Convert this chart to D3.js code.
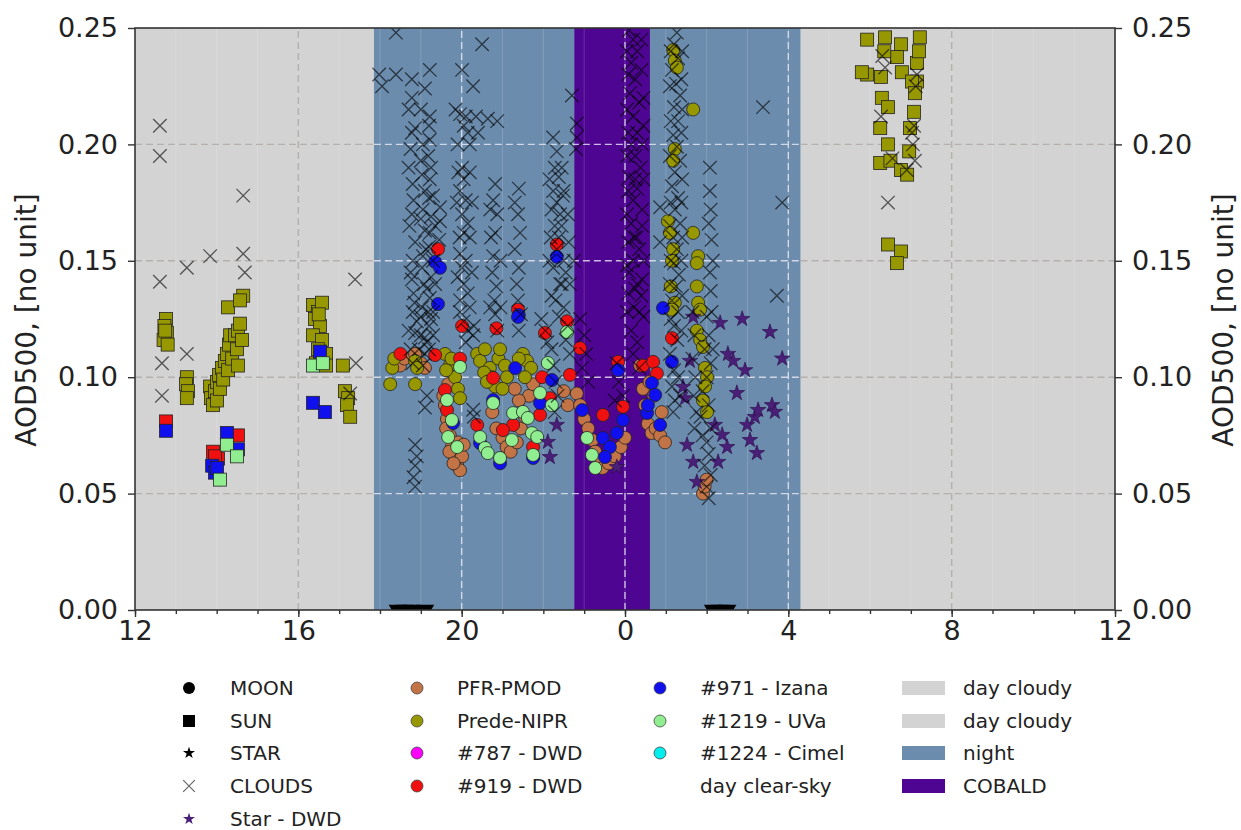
<!DOCTYPE html>
<html>
<head>
<meta charset="utf-8">
<style>
  body { margin: 0; background: #fff; }
  svg { display: block; }
  text { font-family: "DejaVu Sans", sans-serif; fill: #222; }
</style>
</head>
<body>
<svg width="1241" height="830"></svg>
<script src="https://cdn.jsdelivr.net/npm/d3@7"></script>
<script>
// hours run 12 .. 36 (24 = midnight), values are AOD500

var xTicks = [12, 16, 20, 24, 28, 32, 36];
var yTicks = [0, 0.05, 0.10, 0.15, 0.20, 0.25];

var dayCloudy = [[12, 17.85], [28.30, 36]];
var night = [[17.85, 28.30]];
var cobald = [[22.76, 24.61]];

var clouds = [
  [12.61,0.208],[12.61,0.195],[12.61,0.141],[12.66,0.106],[12.66,0.092],
  [13.27,0.147],[13.27,0.110],[13.84,0.152],[14.65,0.178],[14.65,0.153],[14.69,0.145],
  [17.39,0.142],[17.41,0.106],[17.27,0.093],
  [18.39,0.248],[18.39,0.230],[18.78,0.228],[18.78,0.220],[19.10,0.224],[19.22,0.232],[17.98,0.230],[18.05,0.225],
  [18.86,0.207],[18.78,0.205],[18.82,0.176],[18.78,0.170],[18.86,0.158],[18.78,0.142],[18.82,0.136],
  [19.22,0.212],[19.20,0.208],[19.22,0.202],[19.18,0.195],[19.25,0.190],[19.22,0.185],[19.20,0.177],
  [19.25,0.169],[19.22,0.162],[19.20,0.156],[19.25,0.143],[19.22,0.134],
  [19.03,0.187],[19.05,0.172],[19.10,0.163],[19.03,0.147],[19.08,0.140],[19.03,0.130],
  [19.47,0.173],[19.47,0.167],[19.45,0.159],
  [18.80,0.128],[18.90,0.124],[18.86,0.119],[19.00,0.126],[19.10,0.117],[19.20,0.122],[19.15,0.115],
  [19.18,0.128],[19.25,0.125],[19.30,0.118],[19.20,0.112],[19.05,0.105],[18.95,0.112],
  [18.70,0.215],[18.75,0.198],[18.70,0.190],[18.80,0.183],[18.72,0.165],[18.80,0.150],[18.75,0.145],
  [18.85,0.132],[18.70,0.120],[18.75,0.112],[18.80,0.106],
  [19.00,0.215],[19.05,0.200],[19.00,0.193],[19.10,0.180],[19.00,0.168],[19.12,0.155],[19.05,0.152],
  [19.15,0.138],[19.00,0.118],[19.10,0.110],[19.30,0.178],[19.35,0.165],[19.30,0.150],[19.35,0.140],[19.30,0.128],
  [19.15,0.092],[19.10,0.087],[18.86,0.071],[18.86,0.062],[18.86,0.053],[18.90,0.066],[18.82,0.057],
  [20.01,0.232],[20.28,0.225],[20.50,0.243],[19.96,0.213],[20.05,0.208],[20.15,0.205],[20.10,0.212],
  [20.20,0.200],[20.64,0.211],[20.87,0.210],
  [20.01,0.190],[20.05,0.185],[19.96,0.180],[20.10,0.176],[20.01,0.170],[20.15,0.166],[20.05,0.162],
  [19.96,0.153],[20.10,0.150],[20.01,0.147],[20.05,0.140],[20.15,0.136],[19.96,0.133],
  [19.85,0.215],[19.90,0.200],[19.92,0.188],[19.88,0.175],[19.95,0.160],[19.90,0.143],[20.20,0.188],
  [20.25,0.175],[20.20,0.160],[20.25,0.145],[20.20,0.130],[20.30,0.122],[20.35,0.212],[20.40,0.205],
  [19.96,0.128],[20.05,0.124],[20.15,0.120],[20.28,0.118],[20.10,0.115],[20.28,0.086],[20.30,0.083],
  [20.82,0.183],[20.77,0.176],[20.87,0.170],[20.82,0.162],[20.77,0.152],[20.85,0.139],[20.80,0.133],
  [20.82,0.127],[20.87,0.120],[20.70,0.172],[20.72,0.160],[20.75,0.145],[20.70,0.130],[20.95,0.150],[20.95,0.130],
  [21.40,0.181],[21.38,0.170],[21.43,0.162],[21.40,0.147],[21.38,0.133],[21.45,0.127],[21.40,0.120],
  [21.30,0.175],[21.30,0.155],[21.35,0.140],
  [22.24,0.203],[22.33,0.197],[22.28,0.190],[22.38,0.186],[22.24,0.180],[22.33,0.175],[22.41,0.170],
  [22.28,0.165],[22.38,0.160],[22.33,0.155],[22.24,0.147],[22.41,0.140],[22.30,0.133],[22.38,0.126],
  [22.15,0.185],[22.20,0.172],[22.18,0.160],[22.15,0.150],[22.20,0.135],[22.45,0.190],[22.48,0.178],
  [22.45,0.165],[22.50,0.150],[22.45,0.140],[22.50,0.180],[22.60,0.170],[22.62,0.158],[22.55,0.145],
  [22.65,0.140],[22.75,0.150],
  [22.70,0.221],[22.82,0.209],[22.82,0.203],[22.80,0.198],
  [21.95,0.125],[22.05,0.120],[22.10,0.115],[22.50,0.130],[22.60,0.122],[22.55,0.116],[22.65,0.110],
  [22.90,0.125],[23.00,0.118],[23.05,0.110],[22.95,0.104],[23.10,0.098],
  [22.20,0.112],[22.25,0.105],[22.30,0.098],[22.35,0.092],[22.28,0.085],
  [24.10,0.249],[24.20,0.245],[24.30,0.240],[24.15,0.235],[24.25,0.228],[24.40,0.232],[24.12,0.222],
  [24.35,0.218],[24.20,0.212],[24.30,0.205],[24.45,0.208],[24.15,0.200],[24.25,0.195],[24.38,0.190],
  [24.10,0.186],[24.30,0.181],[24.20,0.176],[24.42,0.172],[24.15,0.166],[24.28,0.160],[24.35,0.155],
  [24.20,0.150],[24.10,0.145],[24.30,0.140],[24.40,0.135],[24.22,0.130],[24.45,0.126],[24.15,0.120],
  [24.30,0.115],[24.20,0.110],[24.35,0.104],[23.80,0.106],[23.85,0.098],[23.95,0.092],[23.75,0.090],
  [24.05,0.240],[24.08,0.230],[24.05,0.215],[24.08,0.205],[24.05,0.195],[24.08,0.180],[24.05,0.170],
  [24.08,0.158],[24.05,0.148],[24.08,0.136],[24.05,0.128],[24.40,0.245],[24.45,0.220],[24.42,0.200],
  [24.45,0.185],[24.42,0.165],[24.45,0.150],[24.42,0.142],[24.35,0.128],[24.25,0.185],[24.22,0.160],
  [24.25,0.138],
  [25.27,0.248],[25.20,0.243],[25.30,0.237],[25.15,0.232],[25.25,0.226],[25.35,0.221],[25.20,0.216],
  [25.30,0.210],[25.18,0.204],[25.27,0.199],[25.35,0.193],[25.22,0.188],[25.15,0.182],[25.30,0.177],
  [25.22,0.172],[25.35,0.166],[25.18,0.160],[25.27,0.155],[25.20,0.149],[25.32,0.144],[25.25,0.139],
  [25.15,0.133],[25.30,0.128],[25.20,0.122],[25.28,0.116],[25.10,0.110],[25.20,0.103],[25.15,0.096],
  [25.22,0.090],[25.18,0.085],[24.86,0.173],[24.86,0.158],
  [25.12,0.240],[25.10,0.225],[25.12,0.210],[25.10,0.195],[25.12,0.175],[25.10,0.165],[25.12,0.150],
  [25.10,0.140],[25.12,0.125],[25.40,0.240],[25.38,0.228],[25.40,0.215],[25.38,0.205],[25.40,0.185],
  [25.38,0.175],[25.40,0.160],[25.38,0.150],[25.40,0.135],[25.38,0.120],[25.30,0.100],[25.35,0.092],
  [25.65,0.128],[25.70,0.118],[25.65,0.108],[25.72,0.100],[25.68,0.092],[25.75,0.085],[25.70,0.078],
  [26.08,0.190],[26.08,0.180],[26.10,0.172],[26.05,0.166],[26.12,0.159],[26.08,0.145],[26.10,0.137],
  [26.00,0.126],[26.05,0.118],[25.95,0.112],[26.10,0.106],[26.00,0.100],[25.90,0.094],[26.05,0.088],
  [25.85,0.083],[26.00,0.072],[26.05,0.067],[25.95,0.062],[26.10,0.058],[26.00,0.053],
  [26.15,0.150],[26.12,0.128],[26.15,0.112],[25.90,0.075],[26.10,0.078],[26.05,0.048],
  [27.38,0.216],[27.85,0.175],[27.72,0.135],
  [30.44,0.175],[30.30,0.238],[30.37,0.233],[30.27,0.212],[31.15,0.230],[31.12,0.225],[31.08,0.208],
  [31.03,0.205],[31.05,0.200],[31.10,0.193],[30.90,0.189],[30.55,0.194]
];

var predeSun = [
  [12.76,0.125],[12.72,0.122],[12.78,0.119],[12.70,0.116],[12.80,0.114],[12.74,0.120],
  [13.27,0.100],[13.25,0.097],[13.30,0.094],[13.27,0.091],
  [13.84,0.096],[13.86,0.091],[13.91,0.088],[13.96,0.094],[14.01,0.098],[14.01,0.090],[14.06,0.101],
  [14.08,0.095],[14.13,0.104],[14.16,0.099],[14.20,0.107],[14.25,0.110],[14.28,0.103],[14.30,0.114],
  [14.33,0.118],[14.38,0.108],[14.45,0.118],[14.50,0.112],[14.52,0.120],[14.52,0.105],[14.57,0.123],
  [14.62,0.116],[14.28,0.130],[14.65,0.135],[14.57,0.133],
  [16.36,0.131],[16.48,0.128],[16.58,0.132],[16.41,0.125],[16.53,0.122],[16.36,0.118],[16.58,0.116],
  [16.48,0.112],[16.68,0.110],[16.43,0.106],[16.68,0.105],[16.50,0.127],
  [17.09,0.105],[17.14,0.094],[17.22,0.091],[17.19,0.088],[17.27,0.083],
  [29.93,0.245],[30.37,0.246],[30.76,0.243],[31.22,0.246],[29.93,0.230],[29.80,0.231],[30.27,0.229],
  [30.66,0.2375],[30.78,0.231],[31.15,0.235],[31.15,0.227],[31.03,0.227],[30.29,0.220],[30.44,0.216],
  [30.25,0.207],[31.08,0.214],[30.98,0.207],[30.44,0.200],[30.96,0.197],[30.25,0.192],[30.50,0.193],
  [30.76,0.189],[30.91,0.187],[30.44,0.157],[30.76,0.154],[30.66,0.149],[31.20,0.240],[31.10,0.222],
  [30.35,0.240]
];
var dwd919Sun = [[12.76,0.081],[13.91,0.068],[14.03,0.065],[13.96,0.066],[14.52,0.075]];
var izanaSun = [[12.76,0.077],[13.89,0.062],[13.96,0.059],[14.01,0.061],[14.25,0.076],[14.52,0.069],
  [16.53,0.111],[16.36,0.089],[16.65,0.085]];
var uvaSun = [[14.08,0.056],[14.25,0.071],[14.50,0.066],[16.36,0.105],[16.60,0.106]];

var pfrMoon = [
  [18.49,0.105],[18.60,0.108],[18.86,0.110],[19.00,0.106],[19.10,0.104],
  [19.59,0.088],[19.64,0.082],[19.71,0.075],[19.76,0.070],[19.84,0.065],[19.89,0.062],[19.96,0.060],
  [20.01,0.066],[19.91,0.072],[19.62,0.078],[19.70,0.068],[19.80,0.063],[20.05,0.071],[19.55,0.092],
  [19.67,0.097],
  [20.75,0.085],[20.85,0.078],[21.00,0.074],[21.10,0.070],[21.20,0.068],[21.35,0.072],[21.45,0.078],
  [21.55,0.083],[21.65,0.092],[21.75,0.097],[21.40,0.090],[21.30,0.095],
  [22.50,0.094],[22.60,0.088],[22.82,0.093],[22.90,0.088],[23.00,0.082],[23.10,0.078],[23.20,0.073],
  [23.27,0.068],[23.35,0.064],[23.45,0.061],[23.60,0.063],[23.75,0.066],[23.90,0.070],[24.00,0.074],
  [24.37,0.105],[24.44,0.095],[24.49,0.088],[24.56,0.080],[24.65,0.076],[24.75,0.078],[24.86,0.075],
  [24.98,0.072],[24.60,0.098],[24.70,0.092],[24.90,0.085],
  [25.91,0.050],[25.95,0.053],[26.00,0.056]
];
var predeMoon = [
  [18.30,0.104],[18.25,0.097],[18.35,0.108],[18.86,0.107],[18.91,0.104],[18.86,0.097],
  [19.59,0.110],[19.71,0.105],[19.84,0.100],[19.91,0.095],[19.96,0.091],[19.62,0.103],[19.75,0.108],
  [20.38,0.110],[20.45,0.107],[20.57,0.112],[20.69,0.104],[20.74,0.100],[20.82,0.096],[20.55,0.102],
  [20.62,0.098],[20.90,0.108],[20.94,0.112],[21.06,0.105],[21.11,0.100],[21.00,0.095],[21.50,0.110],
  [21.60,0.107],[21.70,0.104],[21.55,0.100],[21.40,0.108],
  [25.18,0.2405],[25.22,0.236],[25.27,0.233],[25.67,0.215],[25.22,0.198],[25.18,0.193],[25.05,0.167],
  [25.10,0.162],[25.67,0.162],[25.18,0.155],[25.15,0.150],[25.79,0.152],[25.76,0.149],[25.12,0.139],
  [25.76,0.139],[25.79,0.132],[25.22,0.132],[25.15,0.129],
  [25.84,0.129],[25.76,0.120],[25.84,0.116],[25.91,0.113],[25.96,0.104],[26.01,0.100],[25.96,0.096],
  [25.91,0.090],[26.01,0.085]
];
var dwd919Moon = [
  [19.42,0.155],[22.33,0.157],[20.01,0.122],[22.04,0.119],[19.35,0.1095],[19.96,0.108],[20.77,0.0997],
  [21.97,0.100],[22.65,0.101],[22.90,0.1125],[19.59,0.0945],[20.38,0.0795],[21.26,0.0795],[21.92,0.0838],
  [22.16,0.091],[23.46,0.0838],[23.83,0.1066],[23.95,0.0873],[24.44,0.105],[24.69,0.1066],[24.78,0.1016],
  [25.15,0.1168],[19.64,0.0859],[21.01,0.0773],[21.75,0.070],[21.38,0.129],[20.85,0.121],[22.58,0.124],
  [18.50,0.110]
];
var izanaMoon = [
  [19.35,0.1495],[19.47,0.147],[19.42,0.1314],[22.33,0.1517],[21.40,0.1267],[24.93,0.1297],
  [21.38,0.1259],[21.31,0.1039],[22.21,0.0988],[20.77,0.0902],[21.92,0.0889],[19.79,0.0803],[20.94,0.063],
  [21.75,0.0653],[20.45,0.0717],[22.95,0.0859],[23.46,0.0739],[23.63,0.070],[23.51,0.0657],[23.80,0.076],
  [23.95,0.0816],[23.83,0.1031],[24.54,0.0846],[24.66,0.0975],[24.74,0.0924],[24.86,0.0795],[25.15,0.1066],
  [24.56,0.088]
];
var uvaMoon = [
  [19.96,0.1044],[19.64,0.0902],[19.76,0.0816],[19.67,0.0743],[19.89,0.070],[20.77,0.0889],[20.45,0.0743],
  [20.57,0.0696],[20.64,0.0674],[20.94,0.0653],[21.23,0.073],[21.26,0.0846],[21.50,0.0851],[21.62,0.0825],
  [21.72,0.076],[21.85,0.0743],[21.75,0.0666],[21.92,0.0932],[22.11,0.1061],[22.21,0.088],[22.58,0.1194],
  [23.07,0.0739],[23.19,0.0666],[23.27,0.061]
];
var starDwd = [
  [25.67,0.1259],[26.33,0.1233],[27.55,0.1194],[26.52,0.110],[26.65,0.107],[26.94,0.103],[27.85,0.108],
  [25.59,0.107],[25.42,0.0958],[25.47,0.091],[26.74,0.0932],[26.20,0.0795],[26.38,0.0752],[26.50,0.070],
  [26.99,0.0795],[27.18,0.0829],[27.26,0.0859],[27.60,0.088],[27.67,0.0851],[27.06,0.073],[27.23,0.0674],
  [25.52,0.0709],[25.67,0.0636],[26.28,0.0636],[25.76,0.055],[22.33,0.0795],[22.11,0.0722],[22.16,0.0657],
  [23.80,0.0614],[26.87,0.125]
];
var zeroFlags = [18.44, 18.61, 18.78, 19.10, 26.16, 26.33, 26.50];

var legendShapes = ['MOON', 'SUN', 'STAR', 'CLOUDS', 'Star - DWD'];
var legendInstr = ['PFR-PMOD', 'Prede-NIPR', '#787 - DWD', '#919 - DWD',
                   '#971 - Izana', '#1219 - UVa', '#1224 - Cimel', 'day clear-sky'];
var legendSpans = ['day cloudy', 'day cloudy', 'night', 'COBALD'];

var colors = {
  'PFR-PMOD': '#c27447', 'Prede-NIPR': '#979700', '#787 - DWD': '#ff00ff', '#919 - DWD': '#f01010',
  '#971 - Izana': '#1010ee', '#1219 - UVa': '#90ee90', '#1224 - Cimel': '#00eeee', 'day clear-sky': 'none',
  'day cloudy': '#d3d3d3', 'night': '#6b8cad', 'COBALD': '#4e0592', 'Star - DWD': '#4a1f78'
};

var svg = d3.select('svg');
var x = d3.scaleLinear().domain([12, 36]).range([135, 1115]);
var y = d3.scaleLinear().domain([0, 0.25]).range([610, 28]);

svg.append('clipPath').attr('id', 'plot')
  .append('rect').attr('x', 135).attr('y', 28).attr('width', 980).attr('height', 582);

var g = svg.append('g').attr('clip-path', 'url(#plot)');

function band(list, color) {
  g.selectAll(null).data(list).enter().append('rect')
    .attr('x', function (d) { return x(d[0]); })
    .attr('width', function (d) { return x(d[1]) - x(d[0]); })
    .attr('y', y(0.25)).attr('height', y(0) - y(0.25))
    .attr('fill', color);
}
band(dayCloudy, colors['day cloudy']);
band(night, colors.night);
band(cobald, colors.COBALD);

// faint hourly lines
g.selectAll(null).data(d3.range(13, 36)).enter().append('line')
  .attr('x1', x).attr('x2', x).attr('y1', y(0)).attr('y2', y(0.25))
  .attr('stroke', '#fff').attr('stroke-opacity', 0.16);

// dashed grid, tinted per background
function grid(list, color, op) {
  list.forEach(function (r) {
    g.selectAll(null).data(yTicks.slice(1, -1)).enter().append('line')
      .attr('x1', x(r[0])).attr('x2', x(r[1])).attr('y1', y).attr('y2', y)
      .attr('stroke', color).attr('stroke-opacity', op).attr('stroke-width', 1.4)
      .attr('stroke-dasharray', '7,4');
    g.selectAll(null).data(xTicks.filter(function (t) { return t > r[0] && t < r[1] && t > 12 && t < 36; }))
      .enter().append('line')
      .attr('x1', x).attr('x2', x).attr('y1', y(0)).attr('y2', y(0.25))
      .attr('stroke', color).attr('stroke-opacity', op).attr('stroke-width', 1.4)
      .attr('stroke-dasharray', '7,4');
  });
}
grid(dayCloudy, '#b0aca8', 0.9);
grid(night, '#eceaf2', 0.8);

function squares(data, color) {
  g.selectAll(null).data(data).enter().append('rect')
    .attr('x', function (d) { return x(d[0]) - 6.5; })
    .attr('y', function (d) { return y(d[1]) - 6.5; })
    .attr('width', 13).attr('height', 13)
    .attr('fill', color).attr('stroke', '#222').attr('stroke-width', 0.8);
}
function circles(data, color) {
  g.selectAll(null).data(data).enter().append('circle')
    .attr('cx', function (d) { return x(d[0]); })
    .attr('cy', function (d) { return y(d[1]); })
    .attr('r', 6.5)
    .attr('fill', color).attr('stroke', '#222').attr('stroke-width', 0.8);
}

squares(predeSun, colors['Prede-NIPR']);
squares(dwd919Sun, colors['#919 - DWD']);
squares(izanaSun, colors['#971 - Izana']);
squares(uvaSun, colors['#1219 - UVa']);

circles(pfrMoon, colors['PFR-PMOD']);
circles(predeMoon, colors['Prede-NIPR']);
circles(dwd919Moon, colors['#919 - DWD']);
circles(izanaMoon, colors['#971 - Izana']);
circles(uvaMoon, colors['#1219 - UVa']);

var star = d3.symbol().type(d3.symbolStar).size(75);
g.selectAll(null).data(starDwd).enter().append('path')
  .attr('d', star)
  .attr('transform', function (d) { return 'translate(' + x(d[0]) + ',' + y(d[1]) + ')'; })
  .attr('fill', colors['Star - DWD']).attr('stroke', '#2a0a48').attr('stroke-width', 0.6);

var cross = d3.symbol().type(d3.symbolX).size(120);
g.selectAll(null).data(clouds).enter().append('path')
  .attr('d', cross)
  .attr('transform', function (d) { return 'translate(' + x(d[0]) + ',' + y(d[1]) + ')'; })
  .attr('fill', 'none').attr('stroke', '#000').attr('stroke-opacity', 0.62).attr('stroke-width', 1.3);

var tri = d3.symbol().type(d3.symbolTriangle).size(150);
g.selectAll(null).data(zeroFlags).enter().append('path')
  .attr('d', tri)
  .attr('transform', function (d) { return 'translate(' + x(d) + ',' + y(0) + ') rotate(180)'; })
  .attr('fill', '#000');

// axes
var fmt = d3.format('.2f');
function styleAxis(sel) {
  sel.select('.domain').remove();
  sel.selectAll('.tick line').attr('stroke', '#333').attr('stroke-width', 1.4);
  sel.selectAll('.tick text').style('font-size', '27px').attr('fill', '#222');
}
svg.append('g').attr('transform', 'translate(135,0)')
  .call(d3.axisLeft(y).tickValues(yTicks).tickFormat(fmt).tickSize(7).tickPadding(10))
  .call(styleAxis);
svg.append('g').attr('transform', 'translate(1115,0)')
  .call(d3.axisRight(y).tickValues(yTicks).tickFormat(fmt).tickSize(7).tickPadding(10))
  .call(styleAxis);
svg.append('g').attr('transform', 'translate(0,610)')
  .call(d3.axisBottom(x).tickValues(d3.range(12, 37)).tickFormat('').tickSize(4))
  .call(styleAxis);
svg.append('g').attr('transform', 'translate(0,610)')
  .call(d3.axisBottom(x).tickValues(xTicks).tickFormat(function (d) { return d % 24; })
    .tickSize(7).tickPadding(4))
  .call(styleAxis);

svg.append('rect').attr('x', 135).attr('y', 28).attr('width', 980).attr('height', 582)
  .attr('fill', 'none').attr('stroke', '#333').attr('stroke-width', 1.6);

svg.append('text').attr('transform', 'translate(36,320) rotate(-90)')
  .attr('text-anchor', 'middle').style('font-size', '28px').text('AOD500, [no unit]');
svg.append('text').attr('transform', 'translate(1233,320) rotate(-90)')
  .attr('text-anchor', 'middle').style('font-size', '28px').text('AOD500, [no unit]');

// legend
var rowY = [688, 721, 753, 786, 819];
var lg = svg.append('g');
function ltext(tx, ty, s) {
  lg.append('text').attr('x', tx).attr('y', ty).attr('dy', '0.35em')
    .style('font-size', '20px').attr('fill', '#262626').text(s);
}
legendShapes.forEach(function (s, i) {
  var cx = 189, cy = rowY[i];
  if (s === 'MOON') lg.append('circle').attr('cx', cx).attr('cy', cy).attr('r', 6).attr('fill', '#000');
  if (s === 'SUN') lg.append('rect').attr('x', cx - 6).attr('y', cy - 6).attr('width', 12).attr('height', 12).attr('fill', '#000');
  if (s === 'STAR') lg.append('path').attr('d', d3.symbol().type(d3.symbolStar).size(45))
    .attr('transform', 'translate(' + cx + ',' + cy + ')').attr('fill', '#000');
  if (s === 'CLOUDS') lg.append('path').attr('d', d3.symbol().type(d3.symbolX).size(90))
    .attr('transform', 'translate(' + cx + ',' + cy + ')').attr('stroke', '#666').attr('stroke-width', 1.2);
  if (s === 'Star - DWD') lg.append('path').attr('d', d3.symbol().type(d3.symbolStar).size(45))
    .attr('transform', 'translate(' + cx + ',' + cy + ')').attr('fill', colors['Star - DWD']);
  ltext(230, cy, s);
});
legendInstr.forEach(function (s, i) {
  var col = Math.floor(i / 4), row = i % 4;
  var cx = col === 0 ? 417 : 660, cy = rowY[row];
  if (colors[s] !== 'none') {
    lg.append('circle').attr('cx', cx).attr('cy', cy).attr('r', 6)
      .attr('fill', colors[s]).attr('stroke', '#444').attr('stroke-width', 0.8);
  }
  ltext(cx + 40, cy, s);
});
legendSpans.forEach(function (s, i) {
  var cy = rowY[i];
  lg.append('rect').attr('x', 902).attr('y', cy - 7).attr('width', 43).attr('height', 14)
    .attr('fill', colors[s]);
  ltext(963, cy, s);
});
</script>
</body>
</html>
